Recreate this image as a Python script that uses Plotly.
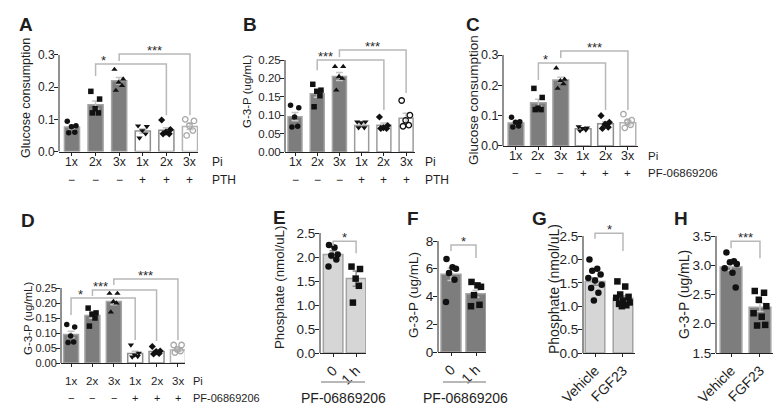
import plotly.graph_objects as go

W, H = 784, 410
FONT = "Liberation Sans, Arial, sans-serif"
TXT = "#1e1e1e"

# ---------------- data ----------------
PI_CATS = ["1x", "2x", "3x", "1x", "2x", "3x"]
SIGNS = ["\u2212", "\u2212", "\u2212", "+", "+", "+"]
E_CATS = ["0", "1 h"]
G_CATS = ["Vehicle", "FGF23"]

A_MEAN = [0.076, 0.145, 0.220, 0.064, 0.066, 0.078]
A_SEM = [0.006, 0.012, 0.010, 0.007, 0.008, 0.010]
A_PTS = [[0.094, 0.080, 0.077, 0.060, 0.058],
         [0.187, 0.163, 0.133, 0.120, 0.120],
         [0.255, 0.225, 0.215, 0.205, 0.190],
         [0.080, 0.078, 0.065, 0.055, 0.042],
         [0.098, 0.068, 0.060, 0.055, 0.055],
         [0.100, 0.095, 0.080, 0.065, 0.050]]

B_MEAN = [0.096, 0.158, 0.205, 0.072, 0.073, 0.092]
B_SEM = [0.011, 0.009, 0.011, 0.004, 0.006, 0.013]
B_PTS = [[0.127, 0.120, 0.095, 0.070, 0.068],
         [0.184, 0.168, 0.165, 0.153, 0.123],
         [0.232, 0.232, 0.205, 0.200, 0.168],
         [0.082, 0.082, 0.080, 0.066, 0.066],
         [0.095, 0.072, 0.066, 0.064, 0.064],
         [0.140, 0.100, 0.086, 0.073, 0.070]]

C_MEAN = [0.076, 0.143, 0.218, 0.057, 0.073, 0.077]
C_SEM = [0.005, 0.011, 0.009, 0.003, 0.007, 0.008]
C_PTS = [[0.095, 0.080, 0.078, 0.066, 0.063],
         [0.190, 0.160, 0.125, 0.120, 0.120],
         [0.257, 0.220, 0.215, 0.205, 0.190],
         [0.064, 0.060, 0.058, 0.053, 0.050],
         [0.100, 0.078, 0.072, 0.062, 0.058],
         [0.105, 0.085, 0.080, 0.070, 0.060]]

D_MEAN = [0.095, 0.158, 0.205, 0.032, 0.038, 0.043]
D_SEM = [0.011, 0.009, 0.011, 0.007, 0.004, 0.005]
D_PTS = [[0.128, 0.120, 0.090, 0.070, 0.068],
         [0.183, 0.167, 0.163, 0.150, 0.123],
         [0.232, 0.232, 0.205, 0.200, 0.170],
         [0.060, 0.033, 0.027, 0.022, 0.020],
         [0.055, 0.040, 0.038, 0.032, 0.030],
         [0.060, 0.060, 0.045, 0.040, 0.035]]

E_MEAN = [2.05, 1.55]
E_SEM = [0.08, 0.16]
E_PTS = [[2.25, 2.20, 2.05, 2.03, 1.95, 1.80],
         [1.80, 1.75, 1.55, 1.40, 1.05]]

F_MEAN = [5.6, 4.2]
F_SEM = [0.45, 0.25]
F_PTS = [[6.7, 6.1, 6.0, 5.7, 5.2, 3.6],
         [5.05, 4.8, 4.7, 4.1, 3.4, 3.3]]

G_MEAN = [1.53, 1.17]
G_SEM = [0.08, 0.05]
G_PTS = [[2.00, 1.80, 1.76, 1.68, 1.60, 1.55, 1.46, 1.39, 1.29, 1.12],
         [1.53, 1.42, 1.25, 1.20, 1.18, 1.12, 1.08, 1.05, 1.02, 1.00]]

H_MEAN = [2.97, 2.28]
H_SEM = [0.06, 0.07]
H_PTS = [[3.22, 3.07, 3.05, 3.02, 2.95, 2.87, 2.62],
         [2.56, 2.53, 2.41, 2.30, 2.18, 2.12, 1.98, 1.97]]

# ---------------- styles ----------------
DARK = "#7d7d7d"
DARK_LINE = "#a5a5a5"
LIGHT = "#d6d6d6"
LIGHT_LINE = "#a3a3a3"
HATCH = "#8e8e8e"
HATCH_L = "#b4b4b4"
BRK = "#b8b8b8"

SYM6 = ["circle", "square", "triangle-up", "triangle-down", "diamond", "circle-open"]
JIT = {
    5: [-0.20, 0.17, -0.02, 0.12, -0.14],
    6: [-0.18, 0.06, 0.20, -0.08, 0.14, -0.20],
    7: [-0.16, 0.10, -0.04, 0.20, -0.22, 0.05, 0.16],
    8: [-0.18, 0.14, -0.04, 0.22, -0.22, 0.06, 0.18, -0.10],
    10: [-0.20, 0.08, -0.10, 0.20, -0.24, 0.00, 0.24, -0.14, 0.12, -0.04],
}


def px_x(v):
    return v / W


def px_y(v):
    return 1 - v / H


fig = go.Figure()
layout = {}
shapes = []
annos = []


def text(x, y, s, size, angle=0, bold=False, xanchor="center", xref="paper", yref="paper"):
    annos.append(dict(xref=xref, yref=yref, x=x, y=y, text=f"<b>{s}</b>" if bold else s,
                      showarrow=False, textangle=angle, xanchor=xanchor, yanchor="middle",
                      font=dict(size=size, color=TXT, family=FONT)))


def add_panel(n, cats, means, sems, pts, box, xr, yr, ytv, yfmt,
              fills, lines, pats, patfg, syms, ptcols, bw, tickfs=12,
              tickangle=0, msize=5.5, errcol="#c4c4c4", cat_y=None, ytickfs=None):
    sfx = "" if n == 1 else str(n)
    xa, ya = "x" + sfx, "y" + sfx
    x0, x1, ytp, ybt = box
    k = list(range(len(cats)))
    fig.add_trace(go.Bar(
        x=k, y=means, width=bw, xaxis=xa, yaxis=ya, showlegend=False,
        marker=dict(color=fills, line=dict(color=lines, width=1.5),
                    pattern=dict(shape=pats, fgcolor=patfg, bgcolor="white",
                                 size=6, solidity=0.28, fillmode="replace")),
        error_y=dict(type="data", array=sems, color=errcol, thickness=1.5, width=3.5),
    ))
    for i, grp in enumerate(pts):
        offs = JIT[len(grp)]
        fig.add_trace(go.Scatter(
            x=[i + o for o in offs], y=grp, mode="markers", xaxis=xa, yaxis=ya,
            showlegend=False, cliponaxis=False,
            marker=dict(symbol=syms[i], size=msize, color=ptcols[i],
                        line=dict(width=1.3 if "open" in syms[i] else 0, color=ptcols[i])),
        ))
    layout["xaxis" + sfx] = dict(
        domain=[px_x(x0), px_x(x1)], range=xr, anchor=ya, tickmode="array",
        tickvals=k, ticktext=cats, showline=True, linecolor="#222", linewidth=1,
        ticks="outside", ticklen=3, tickcolor="#222", showgrid=False, zeroline=False,
        tickfont=dict(size=tickfs, color=TXT, family=FONT), tickangle=tickangle,
        showticklabels=cat_y is None, automargin=False, fixedrange=True)
    layout["yaxis" + sfx] = dict(
        domain=[px_y(ybt), px_y(ytp)], range=yr, anchor=xa, tickmode="array",
        tickvals=ytv, ticktext=[format(v, yfmt) for v in ytv], showline=False,
        ticks="outside", ticklen=4, tickcolor="#222", showgrid=False, zeroline=False,
        ticklabelstandoff=-3,
        tickfont=dict(size=ytickfs or tickfs, color=TXT, family=FONT), automargin=False,
        fixedrange=True)
    if cat_y is not None:
        for i, c in enumerate(cats):
            text(i, px_y(cat_y), c, tickfs, xref=xa)
    # visible y-axis line only up to top tick
    shapes.append(dict(type="line", xref=xa + " domain", yref=ya, x0=0, x1=0,
                       y0=ytv[0], y1=ytv[-1], line=dict(color="#222", width=1)))


def bracket(n, xl, xr_, yline, yl, yr_, label, sx=None, fs=13):
    sfx = "" if n == 1 else str(n)
    xa, ya = "x" + sfx, "y" + sfx
    shapes.append(dict(type="path", xref=xa, yref=ya,
                       path=f"M {xl} {yl} L {xl} {yline} L {xr_} {yline} L {xr_} {yr_}",
                       line=dict(color=BRK, width=1.5)))
    annos.append(dict(xref=xa, yref=ya, x=(xl + xr_) / 2 if sx is None else sx, y=yline,
                      text=label, showarrow=False, yanchor="bottom", yshift=-6,
                      font=dict(size=fs, color="#2a2a2a", family=FONT)))


# ---------- A ----------
dark3 = [DARK] * 3
add_panel(1, PI_CATS, A_MEAN, A_SEM, A_PTS, (51, 190, 143.5 - 0.335 * 321.7, 143.5),
          [-0.55, 5.34], [0, 0.335], [0, 0.1, 0.2, 0.3], ".1f",
          dark3 + ["white"] * 3, [DARK_LINE] * 3 + [HATCH, HATCH, HATCH_L],
          ["", "", "", "\\", "\\", "\\"], ["white"] * 3 + [HATCH, HATCH, HATCH_L],
          SYM6, ["#111"] * 5 + ["#a8a8a8"], 0.64, cat_y=154)
bracket(1, 1, 4, 0.272, 0.235, 0.113, "*", sx=1.35)
bracket(1, 2, 5, 0.303, 0.281, 0.113, "***")

# ---------- B ----------
add_panel(2, PI_CATS, B_MEAN, B_SEM, B_PTS, (277, 407, 144 - 0.295 * 368, 144),
          [-0.45, 5.4], [0, 0.295], [0, 0.05, 0.10, 0.15, 0.20, 0.25], ".2f",
          dark3 + ["white"] * 3, [DARK_LINE] * 3 + ["#9c9c9c"] * 3,
          [""] * 6, ["white"] * 6,
          SYM6, ["#111"] * 6, 0.63, cat_y=154, ytickfs=11.5)
bracket(2, 1, 4, 0.250, 0.222, 0.114, "***", sx=1.35)
bracket(2, 2, 5, 0.277, 0.258, 0.160, "***")

# ---------- C ----------
add_panel(3, PI_CATS, C_MEAN, C_SEM, C_PTS, (495, 630, 138 - 0.34 * 303.3, 138),
          [-0.58, 5.45], [0, 0.34], [0, 0.1, 0.2, 0.3], ".1f",
          dark3 + ["white"] * 3, [DARK_LINE] * 3 + [HATCH, HATCH, HATCH_L],
          ["", "", "", "\\", "\\", "\\"], ["white"] * 3 + [HATCH, HATCH, HATCH_L],
          SYM6, ["#111"] * 5 + ["#a8a8a8"], 0.7, tickfs=12.5, cat_y=148)
bracket(3, 1, 4, 0.274, 0.218, 0.119, "*", sx=1.34)
bracket(3, 2, 5, 0.313, 0.290, 0.119, "***")

# ---------- D ----------
add_panel(4, PI_CATS, D_MEAN, D_SEM, D_PTS, (53, 177, 355 - 0.31 * 300, 355),
          [-0.47, 5.33], [0, 0.31], [0, 0.05, 0.10, 0.15, 0.20, 0.25], ".2f",
          dark3 + ["white"] * 3, [DARK_LINE] * 3 + [HATCH, HATCH, HATCH_L],
          ["", "", "", "\\", "\\", "\\"], ["white"] * 3 + [HATCH, HATCH, HATCH_L],
          SYM6, ["#111"] * 5 + ["#a8a8a8"], 0.7, tickfs=11.5, cat_y=373, ytickfs=11)
bracket(4, 0, 3, 0.217, 0.160, 0.077, "*", sx=0.42)
bracket(4, 1, 4, 0.243, 0.223, 0.073, "***", sx=1.36)
bracket(4, 2, 5, 0.280, 0.260, 0.077, "***")

# ---------- E ----------
add_panel(5, E_CATS, E_MEAN, E_SEM, E_PTS, (312, 358, 345 - 2.65 * 48, 345),
          [-0.57, 1.43], [0, 2.65], [0, 0.5, 1.0, 1.5, 2.0, 2.5], ".1f",
          [LIGHT] * 2, [LIGHT_LINE] * 2, [""] * 2, ["white"] * 2,
          ["circle", "square"], ["#111"] * 2, 0.85, tickfs=14, tickangle=-45,
          msize=6.5, errcol="#8c8c8c", ytickfs=13.5)
bracket(5, 0, 1, 2.33, 2.23, 2.08, "*")

# ---------- F ----------
add_panel(6, E_CATS, F_MEAN, F_SEM, F_PTS, (430, 478, 344 - 8.5 * 13.875, 344),
          [-0.52, 1.4], [0, 8.5], [0, 2, 4, 6, 8], "d",
          [DARK] * 2, [DARK_LINE] * 2, [""] * 2, ["white"] * 2,
          ["circle", "square"], ["#111"] * 2, 0.8, tickfs=14, tickangle=-45,
          msize=6.5, ytickfs=13.5)
bracket(6, 0, 1, 7.71, 7.28, 6.77, "*")

# ---------- G ----------
add_panel(7, G_CATS, G_MEAN, G_SEM, G_PTS, (575, 627, 345 - 2.8 * 46.8, 345),
          [-0.43, 1.43], [0, 2.8], [0, 0.5, 1.0, 1.5, 2.0, 2.5], ".1f",
          [LIGHT] * 2, [LIGHT_LINE] * 2, [""] * 2, ["white"] * 2,
          ["circle", "square"], ["#111"] * 2, 0.7, tickfs=14, tickangle=-45,
          msize=6.5, errcol="#8c8c8c", ytickfs=13.5)
bracket(7, 0, 1, 2.56, 2.44, 2.18, "*")

# ---------- H ----------
add_panel(8, G_CATS, H_MEAN, H_SEM, H_PTS, (708, 765, 345 - 2.18 * 58.5, 345),
          [-0.52, 1.45], [1.5, 3.68], [1.5, 2.0, 2.5, 3.0, 3.5], ".1f",
          [DARK] * 2, [DARK_LINE] * 2, [""] * 2, ["white"] * 2,
          ["circle", "square"], ["#111"] * 2, 0.75, tickfs=14, tickangle=-45,
          msize=6.5, ytickfs=13.5)
bracket(8, 0, 1, 3.41, 3.29, 3.12, "***")

# ---------- second-row labels (Pi / treatment) ----------
for n, ysign, ypi, xlab, treat, fs in [(1, 172, 154, 202, "PTH", 12),
                                       (2, 172, 154, 415, "PTH", 12),
                                       (3, 165, 148, 638, "PF-06869206", 11.5),
                                       (4, 390, 373, 183, "PF-06869206", 11)]:
    sfx = "" if n == 1 else str(n)
    for i, s in enumerate(SIGNS):
        text(i, px_y(ysign), s, fs, xref="x" + sfx)
    text(px_x(xlab), px_y(ypi), "Pi", fs, xanchor="left")
    text(px_x(xlab), px_y(ysign), treat, fs, xanchor="left")

# E/F underline + label
for xa_, xb_, xc_ in [(313, 357, 335), (435, 478, 457)]:
    shapes.append(dict(type="line", xref="paper", yref="paper", x0=px_x(xa_), x1=px_x(xb_),
                       y0=px_y(374), y1=px_y(374), line=dict(color="#a0a0a0", width=1.5)))
    text(px_x(xc_), px_y(390), "PF-06869206", 14)

# y-axis titles
for x, y, s, fs in [(18, 90, "Glucose consumption", 12.5), (239, 84, "G-3-P (ug/mL)", 11.5),
                    (466, 92, "Glucose consumption", 13.5), (20, 311, "G-3-P (ug/mL)", 11.5),
                    (271, 280, "Phosphate (nmol/uL)", 13.3), (405, 287, "G-3-P (ug/mL)", 13.5),
                    (546, 281, "Phosphate (nmol/uL)", 14), (676, 287, "G-3-P (ug/mL)", 14)]:
    text(px_x(x), px_y(y), s, fs, angle=-90)

# panel letters
for x, y, s in [(18, 16, "A"), (242, 16, "B"), (465, 16, "C"), (20, 212, "D"),
                (271, 209, "E"), (405, 210, "F"), (531, 210, "G"), (673, 210, "H")]:
    text(px_x(x), px_y(y), s, 19, bold=True)

fig.update_layout(
    template="none",
    width=W, height=H, margin=dict(l=0, r=0, t=0, b=0, autoexpand=False),
    paper_bgcolor="white", plot_bgcolor="rgba(0,0,0,0)",
    font=dict(family=FONT, color=TXT), showlegend=False, barmode="overlay",
    shapes=shapes, annotations=annos, **layout)

fig.write_html("out.html")
